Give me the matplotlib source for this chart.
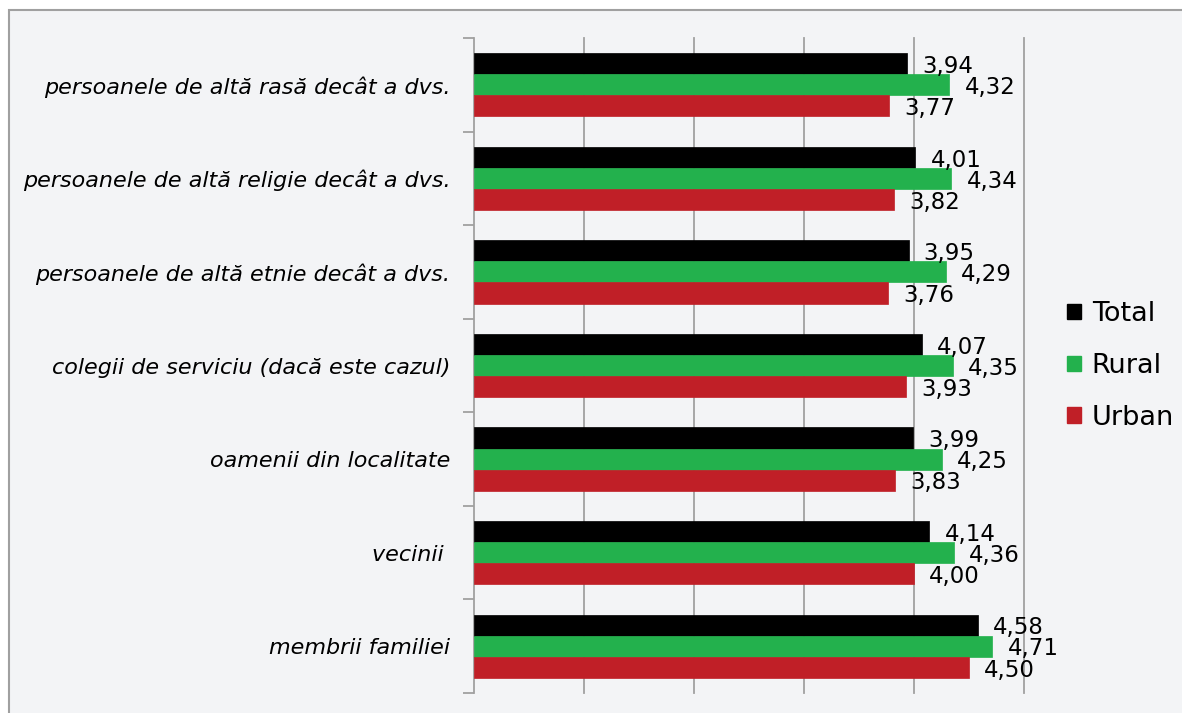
import matplotlib
matplotlib.use("Agg")
import matplotlib.pyplot as plt
from matplotlib.patches import Rectangle, Patch
import numpy as np

categories = [
    "persoanele de altă rasă decât a dvs.",
    "persoanele de altă religie decât a dvs.",
    "persoanele de altă etnie decât a dvs.",
    "colegii de serviciu (dacă este cazul)",
    "oamenii din localitate",
    "vecinii ",
    "membrii familiei",
]
total = [3.94, 4.01, 3.95, 4.07, 3.99, 4.14, 4.58]
rural = [4.32, 4.34, 4.29, 4.35, 4.25, 4.36, 4.71]
urban = [3.77, 3.82, 3.76, 3.93, 3.83, 4.00, 4.50]
series_names = ["Total", "Rural", "Urban"]
colors = ["#000000", "#23b14d", "#c01f27"]

W, H = 1182, 713
fig = plt.figure(figsize=(W / 100, H / 100), dpi=100, facecolor="white")

# panel background with frame
fig.patches.append(Rectangle((9 / W, -0.01), 1.0, 1 - 10 / H + 0.01, transform=fig.transFigure,
                             facecolor="#f3f4f6", edgecolor="#a0a0a0", linewidth=1.5, zorder=-10))

ax = fig.add_axes([474 / W, 1 - 693 / H, (1024 - 474) / W, (693 - 38) / H])
ax.set_facecolor("none")

n = len(categories)
ypos = np.arange(n)[::-1]  # first category on top
bh = 0.225
data = [total, rural, urban]
offsets = [bh, 0, -bh]
for vals, off, col, name in zip(data, offsets, colors, series_names):
    bars = ax.barh(ypos + off, vals, height=bh, color=col, edgecolor=col, linewidth=0.5,
                   label=name, zorder=3)
    for b, v in zip(bars, vals):
        ax.annotate(f"{v:.2f}".replace(".", ","), (v, b.get_y() + b.get_height() / 2),
                    xytext=(11, -2), textcoords="offset points", va="center", ha="left",
                    fontsize=16.5, color="black", zorder=4)

ax.set_xlim(0, 5)
ax.set_ylim(-0.5, n - 0.5)
ax.set_xticks([1, 2, 3, 4, 5])
ax.xaxis.grid(True, color="#a0a0a0", linewidth=1.3, zorder=0)
for gl in ax.get_xgridlines():
    gl.set_clip_on(False)
ax.tick_params(axis="x", length=0, labelbottom=False)
ax.set_yticks(np.arange(-0.5, n, 1.0))
ax.set_yticklabels([])
ax.set_yticks(ypos, minor=True)
ax.set_yticklabels(categories, minor=True, fontsize=16, style="italic")
ax.tick_params(axis="y", which="major", length=8, width=1.3, color="#a0a0a0", direction="out")
ax.tick_params(axis="y", which="minor", length=0, pad=17)
for s in ["top", "right", "bottom"]:
    ax.spines[s].set_visible(False)
ax.spines["left"].set_color("#a0a0a0")
ax.spines["left"].set_linewidth(1.3)

handles = [Patch(facecolor=c, edgecolor=c) for c in colors]
fig.legend(handles, series_names, loc="center left", bbox_to_anchor=(1043 / W, 1 - 366 / H),
           frameon=False, fontsize=19.5, handlelength=0.5, handleheight=0.5,
           handletextpad=0.4, labelspacing=0.95)

fig.savefig("out.png", dpi=100, facecolor="white")
